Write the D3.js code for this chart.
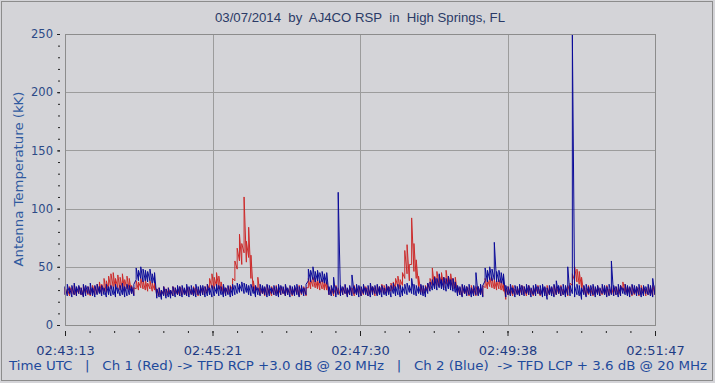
<!DOCTYPE html>
<html><head><meta charset="utf-8">
<script src="https://cdn.jsdelivr.net/npm/d3@7/dist/d3.min.js"></script>
<style>body{margin:0;background:#d4d4d8;} svg{display:block}</style>
</head><body><svg id="c" width="715" height="383"></svg>
<script>
const title = "03/07/2014  by  AJ4CO RSP  in  High Springs, FL";
const yLabel = "Antenna Temperature (kK)";
const footer = "Time UTC   |   Ch 1 (Red) -> TFD RCP +3.0 dB @ 20 MHz   |   Ch 2 (Blue)  -> TFD LCP + 3.6 dB @ 20 MHz";
const sampleStepSec = 2;   // each entry = min / max over a 2 s bin
const spanSec = 514;
const xTickSec = [0, 128.5, 257, 385.5, 514];
const xTickLabels = ["02:43:13", "02:45:21", "02:47:30", "02:49:38", "02:51:47"];
const yTicks = [0, 50, 100, 150, 200, 250];

const ch1RedMax = [
32,31,33,32,34,31,33,32,34,31,33,32,34,33,35,37,35,40,38,42,
44,45,40,43,41,44,39,42,40,34,32,38,37,40,38,39,36,38,36,37,
31,32,30,33,31,32,30,33,32,31,33,32,31,33,32,31,33,32,31,33,
32,33,35,40,44,41,45,42,37,33,32,33,34,40,55,66,78,70,110,72,
84,60,38,33,41,32,33,32,34,31,33,32,34,31,33,32,34,31,33,32,
33,32,34,31,33,32,40,39,41,40,39,38,39,38,37,32,33,31,34,32,
33,32,34,31,33,32,34,31,33,32,34,33,32,34,33,32,34,33,35,34,
35,33,36,37,40,42,39,45,64,69,52,92,70,56,42,34,33,34,36,40,
49,42,46,43,45,41,47,42,44,40,41,33,32,34,31,33,32,34,31,33,
33,32,34,40,39,41,40,39,38,39,38,37,31,33,32,34,31,33,32,34,
33,32,34,31,33,32,34,31,33,32,34,33,32,34,33,32,34,31,33,34,
36,44,50,48,46,41,33,32,34,31,33,32,34,31,33,32,34,31,33,32,
33,32,34,37,35,33,32,34,31,33,32,34,33,31,33,32,34,33
];
const ch1RedMin = [
26,27,25,27,26,25,27,26,25,27,26,25,27,26,27,28,27,29,28,30,
31,33,30,32,30,31,29,31,30,27,26,31,30,32,31,30,29,31,29,30,
25,26,24,26,25,27,26,25,27,26,25,26,27,25,26,27,25,26,25,27,
26,27,28,30,32,31,33,31,29,27,26,27,28,30,38,48,55,52,62,54,
58,40,29,27,30,26,27,25,26,27,25,26,27,25,26,27,25,26,27,25,
26,27,25,26,27,25,32,31,33,32,31,30,31,30,30,26,27,25,26,27,
25,26,27,25,26,27,25,26,27,25,26,27,25,26,27,25,26,27,28,27,
28,27,29,30,31,33,31,34,40,44,38,52,46,40,33,28,27,28,29,31,
34,32,34,33,35,32,35,33,34,31,32,27,26,25,27,26,25,27,26,25,
26,27,25,32,31,33,32,31,30,31,30,29,22,26,27,25,26,27,25,26,
27,25,26,27,25,26,27,25,26,27,25,26,27,25,26,27,25,26,27,25,
28,34,38,37,35,32,27,25,26,27,25,26,27,25,26,27,25,26,27,25,
26,27,25,30,28,26,27,25,26,27,25,26,27,25,26,27,25,26
];
const ch2BlueMax = [
33,35,32,34,36,33,34,32,35,34,33,36,32,34,35,33,34,32,35,33,
34,33,35,32,34,36,33,35,34,33,35,49,47,50,48,47,46,48,44,45,
31,32,30,33,31,32,30,33,32,34,33,34,32,35,33,34,32,35,33,34,
34,33,35,32,34,33,35,34,33,35,32,34,33,35,34,36,35,37,36,35,
34,35,33,34,32,35,34,33,35,34,32,34,33,35,34,33,35,32,34,33,
34,35,33,34,32,35,48,47,50,46,47,45,46,44,45,33,34,41,33,114,
34,33,35,32,34,43,33,35,34,33,35,32,34,36,33,34,35,33,34,32,
35,33,34,36,33,35,34,33,35,36,34,40,35,34,33,35,34,33,36,37,
39,41,40,44,39,41,40,42,39,40,37,34,33,35,34,33,35,32,34,45,
33,35,34,49,47,50,48,71,46,47,45,44,34,33,35,32,34,33,35,34,
33,35,34,32,34,35,33,34,35,33,32,34,33,35,38,34,33,35,34,50,
34,250,33,35,34,32,34,35,33,34,35,33,34,32,35,34,33,35,55,34,
33,35,34,32,35,34,33,35,34,33,35,32,34,33,35,34,40,34
];
const ch2BlueMin = [
26,25,27,24,26,25,27,26,24,25,27,26,25,24,26,27,25,26,24,26,
25,26,24,27,25,26,24,25,26,27,25,39,38,40,37,38,37,38,36,36,
23,24,22,25,23,24,23,25,24,26,25,24,26,25,24,26,25,24,26,25,
26,24,25,26,24,25,27,25,26,24,25,26,24,25,26,27,28,29,27,28,
26,25,27,24,26,25,27,26,24,25,27,26,25,24,26,27,25,26,24,26,
25,26,24,27,25,26,38,37,39,37,38,36,37,36,35,26,25,27,24,26,
25,26,27,24,26,25,27,26,24,25,27,26,25,24,26,27,25,26,24,26,
25,26,24,27,25,26,24,25,27,26,28,27,26,25,27,26,25,24,27,29,
30,31,30,32,31,30,29,31,30,29,28,25,26,24,27,25,26,24,25,26,
25,26,24,38,37,39,38,39,37,37,36,35,24,26,25,27,24,26,25,26,
25,27,26,24,26,25,27,26,24,25,22,26,25,24,26,27,25,26,24,26,
25,27,24,26,25,22,26,24,27,25,26,24,26,25,27,26,24,25,26,25,
26,24,25,27,26,25,24,26,27,25,26,24,25,27,26,25,24,26
];

const W = 715, H = 383;
const L = 65, R = 655, T = 34, B = 325;
const svg = d3.select("#c");
const x = d3.scaleLinear().domain([0, spanSec]).range([L, R]);
const y = d3.scaleLinear().domain([0, 250]).range([B, T]);

svg.append("rect").attr("x", 0).attr("y", 0).attr("width", W).attr("height", H).attr("fill", "#d4d4d8");
svg.append("rect").attr("x", 1.5).attr("y", 1.5).attr("width", 711).attr("height", 379)
  .attr("fill", "none").attr("stroke", "#8c8c8c").attr("stroke-width", 1);

// grid
const g = svg.append("g");
g.selectAll("line.vg").data(xTickSec.slice(1, -1)).join("line")
  .attr("x1", d => Math.round(x(d)) + 0.5).attr("x2", d => Math.round(x(d)) + 0.5)
  .attr("y1", T).attr("y2", B).attr("stroke", "#9c9c9c");
g.selectAll("line.hg").data(yTicks.slice(1, -1)).join("line")
  .attr("y1", d => Math.round(y(d)) + 0.5).attr("y2", d => Math.round(y(d)) + 0.5)
  .attr("x1", L).attr("x2", R).attr("stroke", "#9c9c9c");

// series: min/max per bin, drawn as a continuous trace
function envelope(mins, maxs) {
  return mins.flatMap((lo, i) => [[i * sampleStepSec, lo], [i * sampleStepSec, maxs[i]]]);
}
const line = d3.line().x(d => x(d[0])).y(d => y(d[1]));
svg.append("path").datum(envelope(ch1RedMin, ch1RedMax)).attr("d", line).attr("fill", "none")
  .attr("stroke", "#cc2a2a").attr("stroke-width", 1);
svg.append("path").datum(envelope(ch2BlueMin, ch2BlueMax)).attr("d", line).attr("fill", "none")
  .attr("stroke", "#0a0a98").attr("stroke-width", 1);

// border
svg.append("rect").attr("x", L + 0.5).attr("y", T + 0.5).attr("width", R - L).attr("height", B - T)
  .attr("fill", "none").attr("stroke", "#8c8c8c");

// y axis
const yAxisMinor = d3.axisLeft(y).tickValues(d3.range(0, 251, 10)).tickSize(2).tickFormat("");
svg.append("g").attr("transform", "translate(60,0)").call(yAxisMinor)
  .call(s => s.select(".domain").remove())
  .call(s => s.selectAll("line").attr("stroke", "#222"));
const yAxis = d3.axisLeft(y).tickValues(yTicks).tickSize(3).tickPadding(4);
svg.append("g").attr("transform", "translate(60,0)").call(yAxis)
  .call(s => s.select(".domain").remove())
  .call(s => s.selectAll("line").attr("stroke", "#222"))
  .call(s => s.selectAll("text").attr("font-family", "DejaVu Sans").attr("font-size", 11.5).attr("fill", "#2c4a86"));

// x axis
const xAxisMinor = d3.axisBottom(x).tickValues(d3.range(0, spanSec + 0.1, spanSec / 24)).tickSize(2).tickFormat("");
svg.append("g").attr("transform", "translate(0,331)").call(xAxisMinor)
  .call(s => s.select(".domain").remove())
  .call(s => s.selectAll("line").attr("stroke", "#222"));
const xAxis = d3.axisBottom(x).tickValues(xTickSec).tickSize(5).tickPadding(10)
  .tickFormat((d, i) => xTickLabels[i]);
svg.append("g").attr("transform", "translate(0,331)").call(xAxis)
  .call(s => s.select(".domain").remove())
  .call(s => s.selectAll("line").attr("stroke", "#222"))
  .call(s => s.selectAll("text").attr("font-family", "DejaVu Sans").attr("font-size", 13).attr("fill", "#1e3c84"));

// title
svg.append("text").attr("x", 360).attr("y", 22).attr("text-anchor", "middle")
  .attr("font-family", "Liberation Sans").attr("font-size", 13).attr("fill", "#2a3a66")
  .style("white-space", "pre").attr("textLength", 290).attr("lengthAdjust", "spacingAndGlyphs").text(title);

// y label
svg.append("text").attr("transform", "translate(23,179) rotate(-90)").attr("text-anchor", "middle")
  .attr("font-family", "DejaVu Sans").attr("font-size", 12.5).attr("fill", "#2f5aa0")
  .attr("textLength", 175).attr("lengthAdjust", "spacingAndGlyphs").text(yLabel);

// footer
svg.append("text").attr("x", 9).attr("y", 370)
  .attr("font-family", "DejaVu Sans").attr("font-size", 13).attr("fill", "#1e4a9c")
  .style("white-space", "pre").attr("textLength", 698).attr("lengthAdjust", "spacingAndGlyphs").text(footer);
</script></body></html>
